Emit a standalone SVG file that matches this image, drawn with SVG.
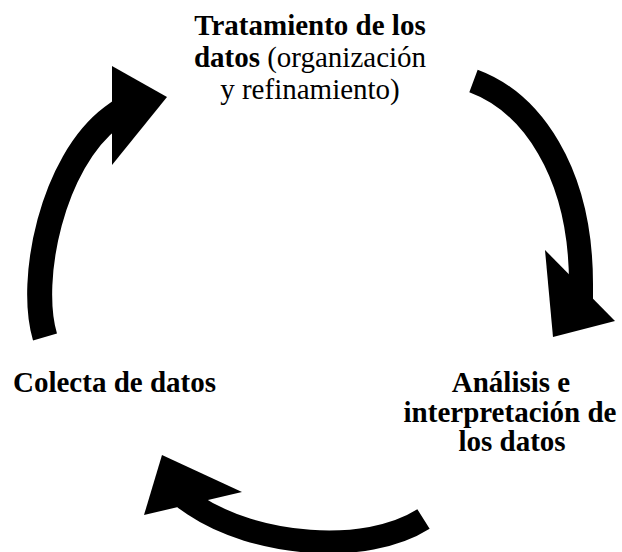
<svg xmlns="http://www.w3.org/2000/svg" width="622" height="552" viewBox="0 0 622 552">
<style>
text{font-family:'Liberation Serif','Times New Roman','DejaVu Serif',serif;font-size:29px;fill:#000}
.b{font-weight:bold}
.shaft{fill:none;stroke:#000;stroke-linecap:butt;stroke-linejoin:miter}
.head{fill:#000}
</style>
<rect width="622" height="552" fill="#fff"/>
<g id="connectors">
<g id="arrow-left">
<path class="shaft" stroke-width="25" d="M45,337 C28,280 52,162 112,117 l15,-11"/>
<polygon class="head" points="112,66 167,97 112,165"/>
</g>
<g id="arrow-right">
<path class="shaft" stroke-width="24" d="M473.5,81 C530,102 581,170 581,284 l0,20"/>
<polygon class="head" points="545,250 615,321 553,337"/>
</g>
<g id="arrow-bottom">
<path class="shaft" stroke-width="23" d="M423.5,519 C365,556 255,546 194,505 l-10,-7"/>
<polygon class="head" points="162,455 242,492 144,515"/>
</g>
</g>
<g id="node-tratamiento">
<text class="b" x="310" y="35" text-anchor="middle">Tratamiento de los</text>
<text x="310" y="67" text-anchor="middle"><tspan class="b">datos</tspan> (organización</text>
<text x="310" y="99" text-anchor="middle">y refinamiento)</text>
</g>
<g id="node-colecta">
<text class="b" x="13" y="392">Colecta de datos</text>
</g>
<g id="node-analisis">
<text class="b" x="511" y="392" text-anchor="middle">Análisis e</text>
<text class="b" x="510" y="422" text-anchor="middle">interpretación de</text>
<text class="b" x="512" y="451" text-anchor="middle">los datos</text>
</g>
</svg>
